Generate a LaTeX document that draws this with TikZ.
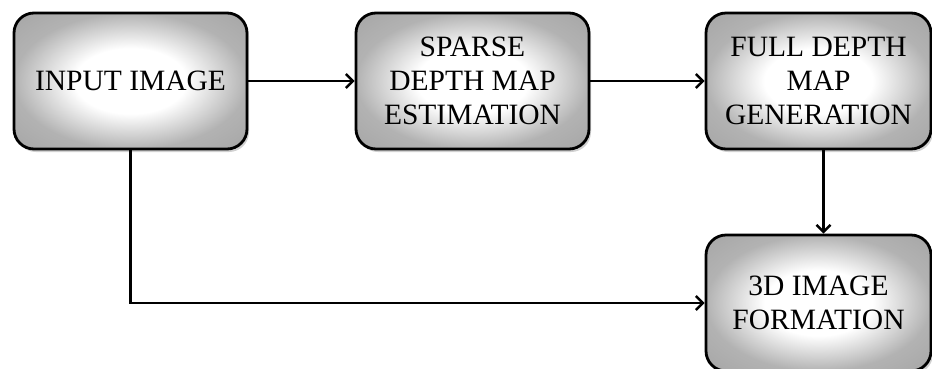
\documentclass[tikz,border=0pt]{standalone}
\usepackage{fontspec}
\setmainfont{Liberation Serif}
\usetikzlibrary{arrows.meta,shadows,calc}
\pgfdeclareradialshading{glossy}{\pgfpoint{0bp}{0bp}}{color(0bp)=(white); color(12bp)=(white); color(25bp)=(black!30); color(50bp)=(black!42)}
\begin{document}
\begin{tikzpicture}[x=1pt,y=-1pt,
  box/.style={draw=black, line width=2.8pt, rounded corners=20pt,
    shading=glossy,
    drop shadow={shadow xshift=2pt, shadow yshift=-3pt, opacity=0.3, fill=black!60},
    minimum height=136pt, align=center, inner sep=2pt,
    font=\fontsize{29.5}{34}\selectfont},
  conn/.style={line width=2.8pt, -{Straight Barb[length=7pt,width=14pt,line width=2.4pt]}}]
\useasboundingbox (0,0) rectangle (932,368);
\node[box, minimum width=233pt] (inp) at (130.5,81) {INPUT IMAGE};
\node[box, minimum width=233pt] (sp) at (472.5,81) {SPARSE\\DEPTH MAP\\ESTIMATION};
\node[box, minimum width=225pt] (fu) at (818.5,81) {FULL DEPTH\\MAP\\GENERATION};
\node[box, minimum width=225pt] (td) at (818.5,303) {3D IMAGE\\FORMATION};
\draw[conn] (inp.east) -- (sp.west);
\draw[conn] (sp.east) -- (fu.west);
\draw[conn] ($(fu.south)+(5,0)$) -- ($(td.north)+(5,0)$);
\draw[conn] (inp.south) |- (td.west);
\end{tikzpicture}
\end{document}
